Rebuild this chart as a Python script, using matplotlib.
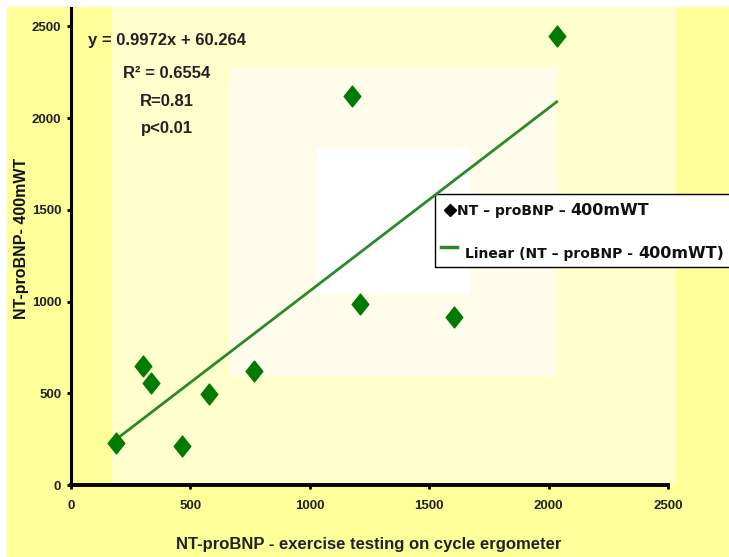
"""
scatter of NT-proBNP values: cycle ergometer vs 400 m walk test, with linear fit.
"""
import numpy as np
import matplotlib
matplotlib.use("Agg")
import matplotlib.pyplot as plt
from matplotlib.patches import Rectangle
from matplotlib.path import Path

# data
ergometer = [188, 301, 335, 465, 577, 766, 1209, 1603, 1176, 2034]
walk_400m = [229, 649, 556, 213, 496, 622, 987, 916, 2122, 2449]
slope = 0.9972
intercept = 60.264
ticks = [0, 500, 1000, 1500, 2000, 2500]

W, H = 729, 557
ARIAL = ["Liberation Sans", "DejaVu Sans"]
WIDE = ["DejaVu Sans"]


def px(x, y):
    """pixel position (from top left) to figure fraction"""
    return x / W, 1 - y / H


def box(x0, y0, x1, y1, color, **kw):
    """add a rectangle given in pixels to the figure"""
    fx, fy = px(x0, y1)
    r = Rectangle((fx, fy), (x1 - x0) / W, (y1 - y0) / H, transform=fig.transFigure,
                  facecolor=color, zorder=0, **kw)
    fig.add_artist(r)
    return r


def legend_line(x, y, small, big):
    """small text followed by a bigger one on the same line"""
    t = fig.text(*px(x, y), small, family=WIDE, fontweight="bold", fontsize=10,
                 va="bottom", color="#111111")
    ax.annotate(big, xy=(1, 0), xycoords=t, va="bottom", ha="left", family=WIDE,
                fontweight="bold", fontsize=11.5, color="#111111", annotation_clip=False)


fig = plt.figure(figsize=(W / 100, H / 100), dpi=100)
fig.patch.set_facecolor("white")

# background shading, bands going lighter toward the middle
box(7, 7, 729, 557, "#ffff99", edgecolor="none")
box(112, 7, 676, 484, "#ffffcc", edgecolor="none")
box(230, 67, 557, 376, "#fffcec", edgecolor="none")
box(317, 148, 470, 293, "white", edgecolor="none")

ax = fig.add_axes([71 / W, 1 - 485 / H, (668 - 71) / W, (485 - 8) / H])
ax.set_facecolor("none")
ax.set_xlim(0, 2500)
ax.set_ylim(0, 2600)
ax.set_xticks(ticks)
ax.set_yticks(ticks)
for s in ["top", "right"]:
    ax.spines[s].set_visible(False)
ax.spines["left"].set_linewidth(2.2)
ax.spines["bottom"].set_linewidth(2.8)
ax.tick_params(length=3, width=2, direction="out", pad=4)
ax.tick_params(axis="x", pad=8)
for lab in ax.get_xticklabels() + ax.get_yticklabels():
    lab.set_family(ARIAL)
    lab.set_fontweight("bold")
    lab.set_fontsize(9.5)
    lab.set_color("#222222")

# tall diamond marker
diamond = Path([(0, 1), (0.8, 0), (0, -1), (-0.8, 0), (0, 1)],
               [Path.MOVETO, Path.LINETO, Path.LINETO, Path.LINETO, Path.CLOSEPOLY])
ax.plot(ergometer, walk_400m, linestyle="none", marker=diamond, markersize=15,
        color="#007a00", zorder=3)

# trend line between min and max x
xs = np.array([min(ergometer), max(ergometer)])
ax.plot(xs, slope * xs + intercept, color="#2a8a2a", linewidth=2, zorder=2)

# axis titles
fig.text(*px(369, 545), "NT-proBNP - exercise testing on cycle ergometer", family=ARIAL,
         fontweight="bold", fontsize=12, ha="center", va="center", color="#222222")
fig.text(*px(22, 238), "NT-proBNP- 400mWT", family=ARIAL, fontweight="bold",
         fontsize=11.5, rotation=90, ha="center", va="center", color="#111111")

# fit statistics
stats = ["y = 0.9972x + 60.264", "R\u00b2 = 0.6554", "R=0.81", "p<0.01"]
ys = [41, 74, 101, 129]
for t, y in zip(stats, ys):
    fig.text(*px(167, y), t, family=ARIAL, fontweight="bold", fontsize=12,
             ha="center", va="center", color="#222222")

# legend drawn by hand, the "400mWT" part is bigger
box(435, 194, 740, 267, "white", edgecolor="black", linewidth=1, clip_on=False)
fig.add_artist(plt.Line2D([px(450, 0)[0]], [px(0, 210)[1]], marker="D", markersize=6,
                          color="black", transform=fig.transFigure))
legend_line(457, 218, "NT \u2013 proBNP \u2013 ", "400mWT")
fig.add_artist(plt.Line2D([px(441, 0)[0], px(457, 0)[0]], [px(0, 247)[1]] * 2,
                          color="#2a8a2a", linewidth=2.5, transform=fig.transFigure))
legend_line(465, 261, "Linear (NT \u2013 proBNP - ", "400mWT)")

fig.savefig("out.png", dpi=100, facecolor=fig.get_facecolor())
